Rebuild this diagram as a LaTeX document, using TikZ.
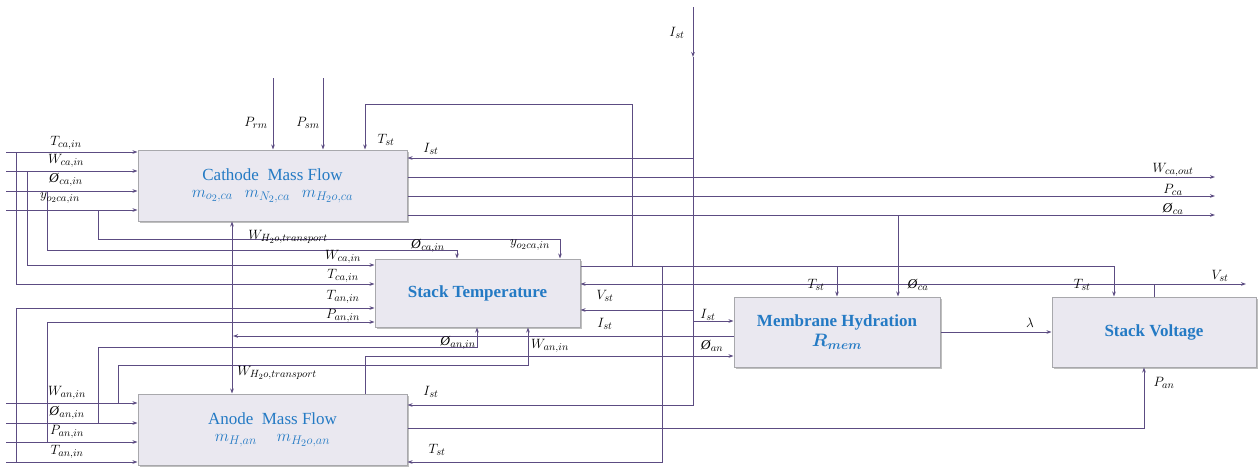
\RequirePackage{fix-cm}
\documentclass[tikz,border=0pt]{standalone}
\usepackage{fontspec}
\setmainfont{Liberation Serif}
\usepackage{bm}
\usetikzlibrary{arrows.meta,shadows}
\DeclareMathSizes{13.5}{13.5}{10.5}{8}
\DeclareMathSizes{16}{16.5}{12.5}{10}
\DeclareMathSizes{17}{18}{13}{10}
\definecolor{lc}{RGB}{92,76,130}
\definecolor{bc}{RGB}{168,168,172}
\definecolor{bf}{RGB}{234,232,240}
\definecolor{tb}{RGB}{36,122,196}
\newcommand\phisym{\textit{\O}}
\tikzset{
  ln/.style={draw=lc, line width=0.95pt},
  arr/.style={ln, -{Stealth[length=5pt,width=3.6pt]}},
  darr/.style={ln, {Stealth[length=5pt,width=3.6pt]}-{Stealth[length=5pt,width=3.6pt]}},
  box/.style={draw=bc, fill=bf, line width=1pt, inner sep=0pt, align=center, text=tb,
    drop shadow={shadow xshift=1.5pt, shadow yshift=-1.5pt, opacity=0.25, fill=black}},
  lab/.style={inner sep=0pt, font=\fontsize{13.5}{15}\selectfont},
}
\begin{document}
\begin{tikzpicture}[x=1pt,y=-1pt]
\useasboundingbox (0,0) rectangle (1258,466);

% ---------- boxes ----------
\node[box, minimum width=269pt, minimum height=71pt] (cath) at (272.5,185.5)
  {{\fontsize{17}{20}\selectfont Cathode~ Mass Flow}\\[5pt]
   {\fontsize{16}{18}\selectfont $m_{o_2,ca}$\hspace{12pt}$m_{N_2,ca}$\hspace{12pt}$m_{H_2o,ca}$}};
\node[box, minimum width=205pt, minimum height=68pt] (stemp) at (477.5,293)
  {{\fontsize{17}{20}\selectfont\bfseries Stack Temperature}};
\node[box, minimum width=269pt, minimum height=71pt] (anode) at (272.5,429.5)
  {{\fontsize{17}{20}\selectfont Anode~ Mass Flow}\\[5pt]
   {\fontsize{16}{18}\selectfont $m_{H,an}$\hspace{20pt}$m_{H_2o,an}$}};
\node[box, minimum width=206pt, minimum height=70pt] (memb) at (837,332)
  {{\fontsize{17}{20}\selectfont\bfseries Membrane Hydration}\\[3pt]
   {\fontsize{17}{20}\selectfont $\bm{R_{mem}}$}};
\node[box, minimum width=204pt, minimum height=70pt] (volt) at (1154,332)
  {{\fontsize{17}{20}\selectfont\bfseries Stack Voltage}};

% ---------- cathode inputs ----------
\coordinate (i1) at (6,152);  \coordinate (i2) at (6,171);
\coordinate (i3) at (6,191);  \coordinate (i4) at (6,210);
\foreach \c in {i1,i2,i3,i4} \draw[arr] (\c) -- (\c -| cath.west);
\coordinate (j1) at (16,152); \coordinate (j2) at (27,171);
\coordinate (j3) at (47,191); \coordinate (j4) at (98,210);
\coordinate (k3) at (457,250); \coordinate (k4) at (560,239);
\draw[arr] (j1) |- ([yshift=9pt]stemp.west);
\draw[arr] (j2) |- ([yshift=28pt]stemp.west);
\draw[arr] (j3) |- (k3) -- (k3 |- stemp.north);
\draw[arr] (j4) |- (k4) -- (k4 |- stemp.north);

% ---------- anode inputs ----------
\coordinate (a1) at (6,403);  \coordinate (a2) at (6,423);
\coordinate (a3) at (6,442);  \coordinate (a4) at (6,462);
\foreach \c in {a1,a2,a3,a4} \draw[arr] (\c) -- (\c -| anode.west);
\coordinate (ja1) at (118,403); \coordinate (ja2) at (98,423);
\coordinate (ja3) at (47,442);  \coordinate (ja4) at (16,462);
\coordinate (ka1) at (528,365); \coordinate (ka2) at (477,347);
\draw[arr] (ja1) |- (ka1) -- (ka1 |- stemp.south);
\draw[arr] (ja2) |- (ka2) -- (ka2 |- stemp.south);
\draw[arr] (ja3) |- ([yshift=-29pt]stemp.west);
\draw[arr] (ja4) |- ([yshift=-15pt]stemp.west);

% ---------- top inputs ----------
\coordinate (prm) at (273,78); \coordinate (psm) at (323,78);
\draw[arr] (prm) -- (prm |- cath.north);
\draw[arr] (psm) -- (psm |- cath.north);

% ---------- T_st ----------
\coordinate (tstR) at (1114,266);
\draw[arr] ([yshift=27pt]stemp.east) -- (tstR) -- (tstR |- volt.north);
\coordinate (tb1) at (632,266); \coordinate (tb1t) at (365,104);
\draw[arr] (tb1) |- (tb1t) -- (tb1t |- cath.north);
\coordinate (tb2) at (837,266);
\draw[arr] (tb2) -- (tb2 |- memb.north);
\coordinate (tb3) at (662,266);
\draw[arr] (tb3) |- ([yshift=-32.5pt]anode.east);

% ---------- I_st ----------
\coordinate (itop) at (693,7); \coordinate (imid) at (693,57);
\draw[arr] (itop) -- (imid);
\draw[arr] (imid) |- ([yshift=24.5pt]anode.east);
\coordinate (ib1) at (693,158); \coordinate (ib2) at (693,310); \coordinate (ib3) at (693,321);
\draw[arr] (ib1) -- (ib1 -| cath.east);
\draw[arr] (ib2) -- (ib2 -| stemp.east);
\draw[arr] (ib3) -- (ib3 -| memb.west);

% ---------- cathode outputs ----------
\coordinate (o1) at (1215,177); \coordinate (o2) at (1215,196); \coordinate (o3) at (1215,215);
\foreach \c in {o1,o2,o3} \draw[arr] (\c -| cath.east) -- (\c);
\coordinate (ob) at (898,215);
\draw[arr] (ob) -- (ob |- memb.north);

% ---------- V_st ----------
\coordinate (vj) at (1154,284); \coordinate (vr) at (1246,284);
\draw[ln] (volt.north) -- (vj);
\draw[arr] (vj) -- (vr);
\draw[arr] (vj) -- (vj -| stemp.east);

% ---------- lambda ----------
\draw[arr] (memb.east) -- (volt.west);

% ---------- P_an ----------
\coordinate (pj) at (1144,428);
\draw[arr] (pj -| anode.east) -- (pj) -- (pj |- volt.south);

% ---------- W_H2O transport ----------
\coordinate (wt) at (233,336);
\draw[arr] (wt -| memb.west) -- (wt);
\coordinate (wx) at (232,300);
\draw[darr] (wx |- cath.south) -- (wx |- anode.north);

% ---------- phi_an ----------
\coordinate (pa) at (365,356);
\draw[arr] (pa |- anode.north) -- (pa) -- (pa -| memb.west);

% ---------- labels ----------
\node[lab] (l1) at (66,143) {$T_{ca,in}$};
\node[lab] (l2) at (66,161) {$W_{ca,in}$};
\node[lab] (l3) at (66,180) {\phisym$_{ca,in}$};
\node[lab] (l4) at (60,198) {$y_{o_2ca,in}$};
\node[lab] (l5) at (256,123) {$P_{rm}$};
\node[lab] (l6) at (308,123) {$P_{sm}$};
\node[lab] (l7) at (386,140) {$T_{st}$};
\node[lab] (l8) at (431,149) {$I_{st}$};
\node[lab] (l9) at (677,33) {$I_{st}$};
\node[lab] (l10) at (1173,170) {$W_{ca,out}$};
\node[lab] (l11) at (1173,190) {$P_{ca}$};
\node[lab] (l12) at (1173,209) {\phisym$_{ca}$};
\node[lab] (l13) at (288,237) {$W_{H_2o,transport}$};
\node[lab] (l14) at (428,246) {\phisym$_{ca,in}$};
\node[lab] (l15) at (530,245) {$y_{o_2ca,in}$};
\node[lab] (l16) at (343,257) {$W_{ca,in}$};
\node[lab] (l17) at (343,276) {$T_{ca,in}$};
\node[lab] (l18) at (343,297) {$T_{an,in}$};
\node[lab] (l19) at (343,316) {$P_{an,in}$};
\node[lab] (l20) at (605,296) {$V_{st}$};
\node[lab] (l21) at (605,324) {$I_{st}$};
\node[lab] (l22) at (816,285) {$T_{st}$};
\node[lab] (l23) at (918,285) {\phisym$_{ca}$};
\node[lab] (l24) at (1082,285) {$T_{st}$};
\node[lab] (l25) at (1220,276) {$V_{st}$};
\node[lab] (l26) at (708,315) {$I_{st}$};
\node[lab] (l27) at (712,346) {\phisym$_{an}$};
\node[lab] (l28) at (1030,323) {$\lambda$};
\node[lab] (l29) at (458,343) {\phisym$_{an,in}$};
\node[lab] (l30) at (550,346) {$W_{an,in}$};
\node[lab] (l31) at (1164,383) {$P_{an}$};
\node[lab] (l32) at (277,373) {$W_{H_2o,transport}$};
\node[lab] (l33) at (431,392) {$I_{st}$};
\node[lab] (l34) at (437,450) {$T_{st}$};
\node[lab] (l35) at (67,393) {$W_{an,in}$};
\node[lab] (l36) at (67,413) {\phisym$_{an,in}$};
\node[lab] (l37) at (67,432) {$P_{an,in}$};
\node[lab] (l38) at (67,452) {$T_{an,in}$};
\end{tikzpicture}
\end{document}
